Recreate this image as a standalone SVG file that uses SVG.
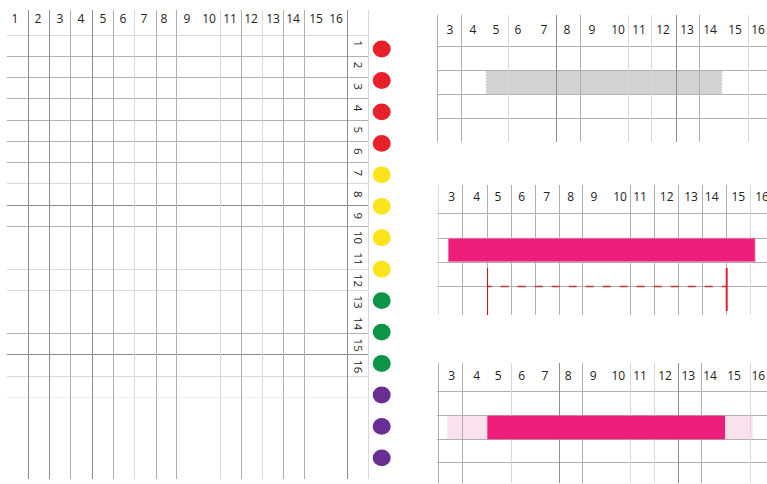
<svg xmlns="http://www.w3.org/2000/svg" width="767" height="484" viewBox="0 0 767 484">
<style>
.d{stroke:#8e8e8e;stroke-width:1;fill:none}
.m{stroke:#b0b0b0;stroke-width:1;fill:none}
.l{stroke:#d8d8d8;stroke-width:1;fill:none}
.xl{stroke:#eeeeee;stroke-width:1;fill:none}
.n{font-family:"Open Sans","Noto Sans",sans-serif;font-size:12px;fill:#222222;text-anchor:middle}
.r{font-family:"Open Sans","Noto Sans",sans-serif;font-size:11.5px;fill:#222222;text-anchor:middle;dominant-baseline:central}
.pink{fill:#ec1e79}
.lpink{fill:#fbe1ec}
</style>
<rect width="767" height="484" fill="#ffffff"/>

<g id="left-grid">
  <g id="left-hlines">
    <path class="l" d="M7 35.5H368"/>
    <path class="m" d="M7 56.5H368M7 77.5H368M7 98.5H368M7 120.5H368M7 141.5H368M7 162.5H368"/>
    <path class="l" d="M7 183.5H368"/>
    <path class="d" d="M7 205.5H368"/>
    <path class="m" d="M7 226.5H368"/>
    <path class="l" d="M7 269.5H368M7 290.5H368"/>
    <path class="m" d="M7 333.5H368"/>
    <path class="d" d="M7 354.5H368"/>
    <path class="l" d="M7 376.5H368"/>
    <path class="xl" d="M7 397.5H368"/>
  </g>
  <g id="left-vlines">
    <path class="d" d="M28.5 10V479M49.5 10V479M92.5 10V479M347.5 10V479"/>
    <path class="m" d="M70.5 10V479M113.5 10V479M156.5 10V479M176.5 10V479M241.5 10V479M283.5 10V479M304.5 10V479"/>
    <path class="l" d="M134.5 10V479M220.5 10V479M262.5 10V479M368.5 10V479"/>
  </g>
  <g id="left-cols">
    <text class="n" x="15" y="23">1</text>
    <text class="n" x="38" y="23">2</text>
    <text class="n" x="60" y="23">3</text>
    <text class="n" x="81" y="23">4</text>
    <text class="n" x="103" y="23">5</text>
    <text class="n" x="123" y="23">6</text>
    <text class="n" x="144" y="23">7</text>
    <text class="n" x="164" y="23">8</text>
    <text class="n" x="187" y="23">9</text>
    <text class="n" x="209" y="23">10</text>
    <text class="n" x="230" y="23">11</text>
    <text class="n" x="251" y="23">12</text>
    <text class="n" x="273" y="23">13</text>
    <text class="n" x="293" y="23">14</text>
    <text class="n" x="316" y="23">15</text>
    <text class="n" x="336" y="23">16</text>
  </g>
  <g id="left-rows">
    <text class="r" transform="rotate(90 358 43.5)" x="358" y="43.5">1</text>
    <text class="r" transform="rotate(90 358 65)" x="358" y="65">2</text>
    <text class="r" transform="rotate(90 358 86.6)" x="358" y="86.6">3</text>
    <text class="r" transform="rotate(90 358 108.1)" x="358" y="108.1">4</text>
    <text class="r" transform="rotate(90 358 129.7)" x="358" y="129.7">5</text>
    <text class="r" transform="rotate(90 358 151.2)" x="358" y="151.2">6</text>
    <text class="r" transform="rotate(90 358 172.8)" x="358" y="172.8">7</text>
    <text class="r" transform="rotate(90 358 194.3)" x="358" y="194.3">8</text>
    <text class="r" transform="rotate(90 358 215.9)" x="358" y="215.9">9</text>
    <text class="r" transform="rotate(90 358 237.4)" x="358" y="237.4">10</text>
    <text class="r" transform="rotate(90 358 259)" x="358" y="259">11</text>
    <text class="r" transform="rotate(90 358 280.5)" x="358" y="280.5">12</text>
    <text class="r" transform="rotate(90 358 302.1)" x="358" y="302.1">13</text>
    <text class="r" transform="rotate(90 358 323.6)" x="358" y="323.6">14</text>
    <text class="r" transform="rotate(90 358 345.2)" x="358" y="345.2">15</text>
    <text class="r" transform="rotate(90 358 366.7)" x="358" y="366.7">16</text>
  </g>
</g>

<g id="dots">
  <g fill="#e8202a">
    <ellipse cx="381.7" cy="49" rx="9" ry="8.4"/>
    <ellipse cx="381.7" cy="80.5" rx="9" ry="8.4"/>
    <ellipse cx="381.7" cy="111.9" rx="9" ry="8.4"/>
    <ellipse cx="381.7" cy="143.4" rx="9" ry="8.4"/>
  </g>
  <g fill="#fbe41c">
    <ellipse cx="381.7" cy="174.8" rx="9" ry="8.4"/>
    <ellipse cx="381.7" cy="206.3" rx="9" ry="8.4"/>
    <ellipse cx="381.7" cy="237.7" rx="9" ry="8.4"/>
    <ellipse cx="381.7" cy="269.2" rx="9" ry="8.4"/>
  </g>
  <g fill="#0d9446">
    <ellipse cx="381.7" cy="300.6" rx="9" ry="8.4"/>
    <ellipse cx="381.7" cy="332.1" rx="9" ry="8.4"/>
    <ellipse cx="381.7" cy="363.5" rx="9" ry="8.4"/>
  </g>
  <g fill="#6a2d91">
    <ellipse cx="381.7" cy="395" rx="9" ry="8.4"/>
    <ellipse cx="381.7" cy="426.4" rx="9" ry="8.4"/>
    <ellipse cx="381.7" cy="457.9" rx="9" ry="8.4"/>
  </g>
</g>

<g id="panel-1">
  <polygon fill="#d2d2d2" points="487,70.5 485,72.5 487,74 485,75.5 487,77 485,78.5 487,80 485,81.5 487,83 485,84.5 487,86 485,87.5 487,89 485,90.5 487,92 485,93.5 487,94.5 721,94.5 723,93 721,91.5 723,90 721,88.5 723,87 721,85.5 723,84 721,82.5 723,81 721,79.5 723,78 721,76.5 723,75 721,73.5 723,72 721,70.5"/>
  <path class="m" d="M437 46.5H767M437 70.5H767M437 94.5H767M437 118.5H767"/>
  <path class="m" d="M437.5 15V142M461.5 15V142M580.5 15V142M699.5 15V142"/>
  <path class="d" d="M556.5 15V142M676.5 15V142"/>
  <path class="l" d="M508.5 15V142M628.5 15V142M651.5 15V142M748.5 15V142"/>
  <g>
    <text class="n" x="450" y="33.5">3</text>
    <text class="n" x="473" y="33.5">4</text>
    <text class="n" x="496" y="33.5">5</text>
    <text class="n" x="518" y="33.5">6</text>
    <text class="n" x="544" y="33.5">7</text>
    <text class="n" x="567" y="33.5">8</text>
    <text class="n" x="592" y="33.5">9</text>
    <text class="n" x="618" y="33.5">10</text>
    <text class="n" x="639" y="33.5">11</text>
    <text class="n" x="663" y="33.5">12</text>
    <text class="n" x="687" y="33.5">13</text>
    <text class="n" x="710" y="33.5">14</text>
    <text class="n" x="735" y="33.5">15</text>
    <text class="n" x="758" y="33.5">16</text>
  </g>
</g>

<g id="panel-2">
  <path class="m" d="M437 213.5H767M437 238.5H767M437 262.5H767M437 286.5H767"/>
  <path class="m" d="M462.5 185V315M487.5 185V315M511.5 185V315M535.5 185V315M559.5 185V315M582.5 185V315M630.5 185V315M654.5 185V315M678.5 185V315M702.5 185V315M726.5 185V315"/>
  <path class="l" d="M438.5 185V315M750.5 185V315"/>
  <rect class="pink" x="448.3" y="238.3" width="306.7" height="23.4" stroke="#f07aa9" stroke-width="0.8"/>
  <path d="M488 286.5H726" stroke="#c6343a" stroke-width="1.6" stroke-dasharray="8 9" stroke-dashoffset="4.3" fill="none"/>
  <path d="M487.5 268V315" stroke="#a4282f" stroke-width="1.2" fill="none"/>
  <path d="M726.7 268V311" stroke="#e2202b" stroke-width="2" fill="none"/>
  <g>
    <text class="n" x="451.7" y="200.5">3</text>
    <text class="n" x="476.7" y="200.5">4</text>
    <text class="n" x="498" y="200.5">5</text>
    <text class="n" x="521.7" y="200.5">6</text>
    <text class="n" x="546.7" y="200.5">7</text>
    <text class="n" x="570.7" y="200.5">8</text>
    <text class="n" x="594" y="200.5">9</text>
    <text class="n" x="620" y="200.5">10</text>
    <text class="n" x="640" y="200.5">11</text>
    <text class="n" x="666.7" y="200.5">12</text>
    <text class="n" x="691" y="200.5">13</text>
    <text class="n" x="711.7" y="200.5">14</text>
    <text class="n" x="738.3" y="200.5">15</text>
    <text class="n" x="762" y="200.5">16</text>
  </g>
</g>

<g id="panel-3">
  <rect class="lpink" x="447.3" y="415.7" width="40" height="23.6"/>
  <rect class="lpink" x="725" y="415.7" width="27.7" height="23.6"/>
  <path class="m" d="M437 391.5H767M437 415.5H767M437 439.5H767M437 462.5H767"/>
  <path class="m" d="M438.5 363V483M462.5 363V483M582.5 363V483M701.5 363V483"/>
  <path class="d" d="M559.5 363V483M678.5 363V483"/>
  <path class="l" d="M511.5 363V483M630.5 363V483M654.5 363V483M750.5 363V483"/>
  <rect class="pink" x="487.3" y="415.7" width="237.7" height="23.6"/>
  <g>
    <text class="n" x="451.7" y="380">3</text>
    <text class="n" x="476.7" y="380">4</text>
    <text class="n" x="498.3" y="380">5</text>
    <text class="n" x="521.7" y="380">6</text>
    <text class="n" x="545" y="380">7</text>
    <text class="n" x="568.3" y="380">8</text>
    <text class="n" x="593.3" y="380">9</text>
    <text class="n" x="618.3" y="380">10</text>
    <text class="n" x="640" y="380">11</text>
    <text class="n" x="665" y="380">12</text>
    <text class="n" x="688.3" y="380">13</text>
    <text class="n" x="710" y="380">14</text>
    <text class="n" x="734" y="380">15</text>
    <text class="n" x="758.3" y="380">16</text>
  </g>
</g>
</svg>
